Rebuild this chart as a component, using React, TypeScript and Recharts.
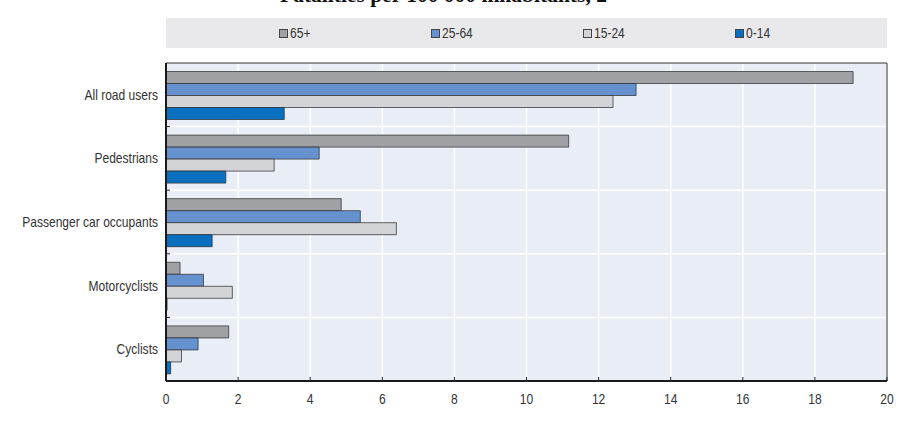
import { BarChart, Bar, XAxis, YAxis, CartesianGrid, ReferenceArea } from "recharts"

// road user types, top to bottom
const categories = [
  "All road users",
  "Pedestrians",
  "Passenger car occupants",
  "Motorcyclists",
  "Cyclists",
]

// fatalities per 100 000 inhabitants
const age65plus = [19.06, 11.17, 4.86, 0.39, 1.74]
const age25to64 = [13.04, 4.25, 5.39, 1.04, 0.89]
const age15to24 = [12.4, 3.0, 6.39, 1.84, 0.43]
const age0to14 = [3.28, 1.66, 1.28, 0.03, 0.13]

const xTicks = [0, 2, 4, 6, 8, 10, 12, 14, 16, 18, 20]

const series = [
  { key: "a65", name: "65+", color: "#a0a1a4" },
  { key: "a25", name: "25-64", color: "#6591cf" },
  { key: "a15", name: "15-24", color: "#d3d4d7" },
  { key: "a0", name: "0-14", color: "#0b6fbf" },
]

const data = categories.map((c, i) => ({
  name: c,
  a65: age65plus[i],
  a25: age25to64[i],
  a15: age15to24[i],
  a0: age0to14[i],
}))

const FONT = "'Liberation Sans', Arial, sans-serif"
// the original uses a condensed sans, so squeeze regular glyphs a bit
const SQUEEZE = 0.86

const XTick = ({ x, y, payload }: any) => (
  <g>
    <line x1={x} x2={x} y1={y} y2={y - 4} stroke="#222" strokeWidth={1} />
    <g transform={`translate(${x},${y + 23}) scale(${SQUEEZE},1)`}>
      <text x={0} y={0} textAnchor="middle" fontSize={14} fill="#333" fontFamily={FONT}>
        {payload.value}
      </text>
    </g>
  </g>
)

const YTick = ({ x, y, payload, index }: any) => {
  const half = payload.offset ?? 31.8
  return (
    <g>
      <g transform={`translate(${x - 8},${y + 5}) scale(${SQUEEZE},1)`}>
        <text x={0} y={0} textAnchor="end" fontSize={14} fill="#333" fontFamily={FONT}>
          {payload.value}
        </text>
      </g>
      {index < categories.length - 1 && (
        <line x1={x} x2={x + 4} y1={y + half} y2={y + half} stroke="#222" strokeWidth={1} />
      )}
    </g>
  )
}

export default function App() {
  return (
    <div
      style={{
        position: "absolute",
        top: 0,
        left: 0,
        width: 911,
        height: 423,
        background: "#fff",
        overflow: "hidden",
        fontFamily: FONT,
      }}
    >
      {/* title, mostly cut off at the top edge */}
      <div
        style={{
          position: "absolute",
          left: 280,
          top: -15,
          fontFamily: "'Liberation Serif', 'Times New Roman', serif",
          fontWeight: "bold",
          fontSize: 21.5,
          lineHeight: "21px",
          color: "#111",
          whiteSpace: "nowrap",
        }}
      >
        Fatalities per 100 000 inhabitants, 2
      </div>

      {/* legend */}
      <div
        style={{
          position: "absolute",
          left: 166,
          top: 18,
          width: 721,
          height: 30,
          background: "#e9e9eb",
          display: "flex",
          alignItems: "center",
          paddingLeft: 113,
          boxSizing: "border-box",
        }}
      >
        {series.map((s) => (
          <div key={s.key} style={{ width: 156, display: "flex", alignItems: "center" }}>
            <span
              style={{
                display: "inline-block",
                width: 7,
                height: 7,
                background: s.color,
                border: "1px solid #444",
                marginRight: 2,
              }}
            />
            <span
              style={{
                display: "inline-block",
                fontSize: 14,
                color: "#333",
                transform: `scaleX(${SQUEEZE})`,
                transformOrigin: "left center",
              }}
            >
              {s.name}
            </span>
          </div>
        ))}
      </div>

      <BarChart
        width={911}
        height={423}
        data={data}
        layout="vertical"
        margin={{ top: 63, right: 24, bottom: 12, left: 0 }}
        barCategoryGap={8.5}
        barGap={0}
      >
        <CartesianGrid
          fill="#e9edf6"
          stroke="#ffffff"
          strokeWidth={1.5}
          horizontalCoordinatesGenerator={({ offset }: any) =>
            categories.slice(1).map((_, i) => offset.top + ((i + 1) * offset.height) / categories.length)
          }
        />
        <XAxis
          type="number"
          domain={[0, 20]}
          ticks={xTicks}
          interval={0}
          height={30}
          tickLine={false}
          tickSize={0}
          tickMargin={0}
          axisLine={{ stroke: "#1a1a1a", strokeWidth: 2 }}
          tick={<XTick />}
        />
        <YAxis
          type="category"
          dataKey="name"
          width={166}
          interval={0}
          tickLine={false}
          tickSize={0}
          tickMargin={0}
          axisLine={{ stroke: "#1a1a1a", strokeWidth: 2 }}
          tick={<YTick />}
        />
        <ReferenceArea x1={0} x2={20} fill="none" fillOpacity={0} stroke="#333" strokeWidth={1} />
        {series.map((s) => (
          <Bar
            key={s.key}
            dataKey={s.key}
            name={s.name}
            fill={s.color}
            stroke="#333"
            strokeWidth={0.75}
            isAnimationActive={false}
          />
        ))}
      </BarChart>
    </div>
  )
}
